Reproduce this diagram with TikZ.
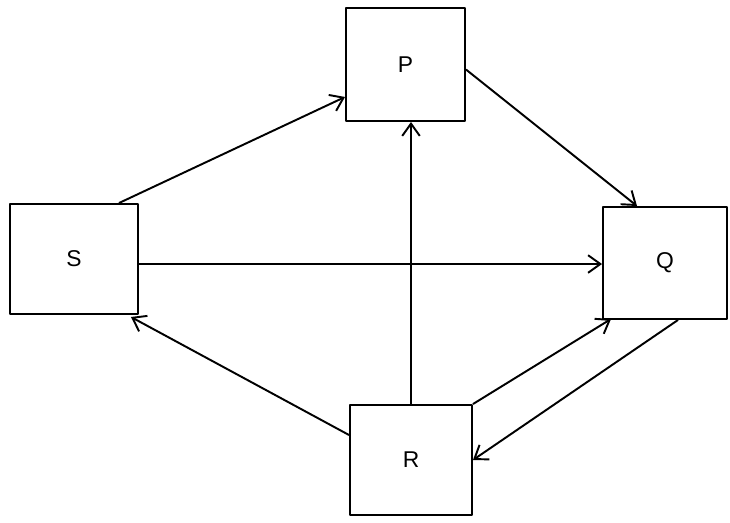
\documentclass[tikz,border=0pt]{standalone}
\usepackage{fontspec}
\setmainfont{Liberation Sans}
\usetikzlibrary{arrows.meta}
\begin{document}
\begin{tikzpicture}[x=0.02cm,y=-0.02cm,line width=1.1pt,join=round,
        box/.style={draw,rectangle,inner sep=0pt,font=\fontsize{13}{15}\selectfont},
        link/.style={-{Straight Barb[length=7pt,width=10pt]}}] %four boxes
        \useasboundingbox (0,0) rectangle (730,522);
        \node[box,minimum width=119*0.02cm,minimum height=113*0.02cm] (P) at (405.5,64.5) {P};
        \node[box,minimum width=128*0.02cm,minimum height=110*0.02cm] (S) at (74,259) {S};
        \node[box,minimum width=124*0.02cm,minimum height=112*0.02cm] (Q) at (665,263) {Q};
        \node[box,minimum width=122*0.02cm,minimum height=110*0.02cm] (R) at (411,460) {R};
        \draw[link] ([shift={(-20,0)}]S.north east) -- ([shift={(0,-25)}]P.south west);
        \draw[link] ([shift={(0,5)}]P.east) -- ([shift={(35,0)}]Q.north west);
        \draw[link] ([shift={(0,5)}]S.east) -- ([shift={(0,1)}]Q.west);
        \draw[link] (R.north) -- (R.north |- P.south);
        \draw[link] ([shift={(0,-25)}]R.west) -- ([shift={(-8,2)}]S.south east);
        \draw[link] (R.north east) -- ([shift={(9,-1)}]Q.south west);
        \draw[link] ([shift={(13,0)}]Q.south) -- (R.east);
\end{tikzpicture}
\end{document}
